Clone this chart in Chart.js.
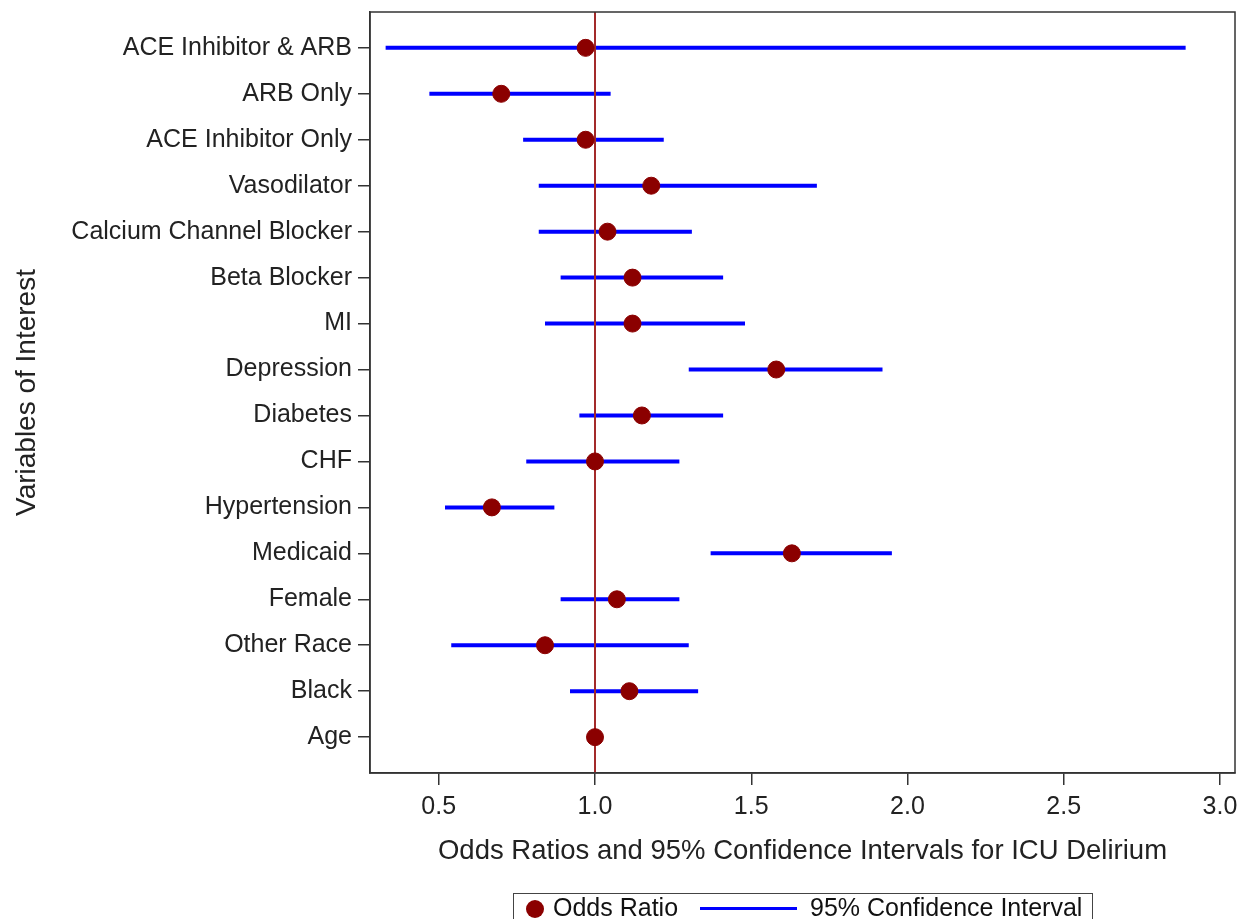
<!DOCTYPE html>
<html lang="en">
<head>
    <meta charset="UTF-8">
    <script src="https://cdn.jsdelivr.net/npm/chart.js"></script>
    <title>Odds Ratios for ICU Delirium</title>
    <style>
        body { margin: 0; background: #fff; font-family: "Liberation Sans", Arial, sans-serif; }
        #wrap { position: relative; width: 1245px; height: 919px; overflow: hidden; }
        #legend {
            position: absolute; left: 513px; top: 893px; width: 578px; height: 40px;
            border: 1px solid #444; font-size: 25px; color: #111; white-space: nowrap;
        }
        #legend .dot { position: absolute; left: 12px; top: 6px; width: 18px; height: 18px; border-radius: 50%; background: #8b0000; }
        #legend .line { position: absolute; left: 186px; top: 13px; width: 97px; height: 3px; background: #0000ff; }
        #legend .t1 { position: absolute; left: 39px; top: -1px; }
        #legend .t2 { position: absolute; left: 296px; top: -1px; }
    </style>
</head>
<body>
    <div id="wrap">
        <canvas id="forest" width="1245" height="919"></canvas>
        <div id="legend">
            <span class="dot"></span><span class="t1">Odds Ratio</span>
            <span class="line"></span><span class="t2">95% Confidence Interval</span>
        </div>
    </div>

    <script>
        // rows, top to bottom
        const variables = ['ACE Inhibitor & ARB', 'ARB Only', 'ACE Inhibitor Only', 'Vasodilator',
            'Calcium Channel Blocker', 'Beta Blocker', 'MI', 'Depression', 'Diabetes', 'CHF',
            'Hypertension', 'Medicaid', 'Female', 'Other Race', 'Black', 'Age'];
        const oddsRatio = [0.97, 0.70, 0.97, 1.18, 1.04, 1.12, 1.12, 1.58, 1.15, 1.00, 0.67, 1.63, 1.07, 0.84, 1.11, 1.00];
        const ciLower   = [0.33, 0.47, 0.77, 0.82, 0.82, 0.89, 0.84, 1.30, 0.95, 0.78, 0.52, 1.37, 0.89, 0.54, 0.92, 0.99];
        const ciUpper   = [2.89, 1.05, 1.22, 1.71, 1.31, 1.41, 1.48, 1.92, 1.41, 1.27, 0.87, 1.95, 1.27, 1.30, 1.33, 1.01];
        const xTicks = [0.5, 1.0, 1.5, 2.0, 2.5, 3.0];
        const refValue = 1.0;

        const font = "'Liberation Sans', Arial, sans-serif";

        // one point per row for the odds ratio
        const orPoints = oddsRatio.map((v, i) => ({ x: v, y: i }));
        // interval segments, broken by empty points
        const ciPoints = [];
        ciLower.forEach((lo, i) => {
            ciPoints.push({ x: lo, y: i }, { x: ciUpper[i], y: i }, { x: null, y: null });
        });

        // box round the plot area
        const frame = {
            id: 'frame',
            afterDraw(chart) {
                const { ctx, chartArea: a } = chart;
                ctx.save();
                ctx.strokeStyle = '#333';
                ctx.lineWidth = 1.5;
                ctx.strokeRect(a.left, a.top, a.right - a.left, a.bottom - a.top);
                ctx.restore();
            }
        };

        new Chart(document.getElementById('forest'), {
            type: 'scatter',
            data: {
                datasets: [
                    {
                        label: 'Odds Ratio',
                        data: orPoints,
                        backgroundColor: '#8b0000',
                        borderColor: '#8b0000',
                        pointRadius: 8.5,
                        order: 0
                    },
                    {
                        label: 'Reference',
                        type: 'line',
                        data: [{ x: refValue, y: -1 }, { x: refValue, y: 17 }],
                        borderColor: '#a32a2a',
                        borderWidth: 2,
                        pointRadius: 0,
                        order: 1
                    },
                    {
                        label: '95% Confidence Interval',
                        type: 'line',
                        data: ciPoints,
                        borderColor: '#0000ff',
                        borderWidth: 4,
                        borderCapStyle: 'butt',
                        pointRadius: 0,
                        spanGaps: false,
                        order: 2
                    }
                ]
            },
            options: {
                responsive: false,
                animation: false,
                layout: { padding: { top: 12, right: 10, left: 0, bottom: 0 } },
                plugins: {
                    legend: { display: false },
                    tooltip: { enabled: false }
                },
                scales: {
                    x: {
                        type: 'linear',
                        min: 0.28,
                        max: 3.048,
                        afterFit(scale) { scale.height = 146; },
                        afterBuildTicks(scale) { scale.ticks = xTicks.map(v => ({ value: v })); },
                        grid: { drawOnChartArea: false, tickLength: 12, color: '#333', lineWidth: 1.5 },
                        border: { color: '#333', width: 1.5 },
                        ticks: {
                            padding: 7,
                            color: '#222',
                            font: { family: font, size: 25 },
                            callback: v => Number(v).toFixed(1)
                        },
                        title: {
                            display: true,
                            text: 'Odds Ratios and 95% Confidence Intervals for ICU Delirium',
                            color: '#222',
                            font: { family: font, size: 27.5 },
                            padding: { top: 0, bottom: 51 }
                        }
                    },
                    y: {
                        type: 'linear',
                        reverse: true,
                        min: -0.78,
                        max: 15.78,
                        afterFit(scale) {
                            scale.width = 370;
                            // rows sit well inside the box, no extra room needed for labels
                            scale.paddingTop = 0;
                            scale.paddingBottom = 0;
                        },
                        afterBuildTicks(scale) { scale.ticks = variables.map((_, i) => ({ value: i })); },
                        grid: { drawOnChartArea: false, tickLength: 12, color: '#333', lineWidth: 1.5 },
                        border: { color: '#333', width: 1.5 },
                        ticks: {
                            padding: 6,
                            color: '#222',
                            font: { family: font, size: 25 },
                            callback: v => variables[v]
                        },
                        title: {
                            display: true,
                            text: 'Variables of Interest',
                            color: '#222',
                            font: { family: font, size: 28 },
                            padding: { top: 10, bottom: 0 }
                        }
                    }
                }
            },
            plugins: [frame]
        });
    </script>
</body>
</html>
